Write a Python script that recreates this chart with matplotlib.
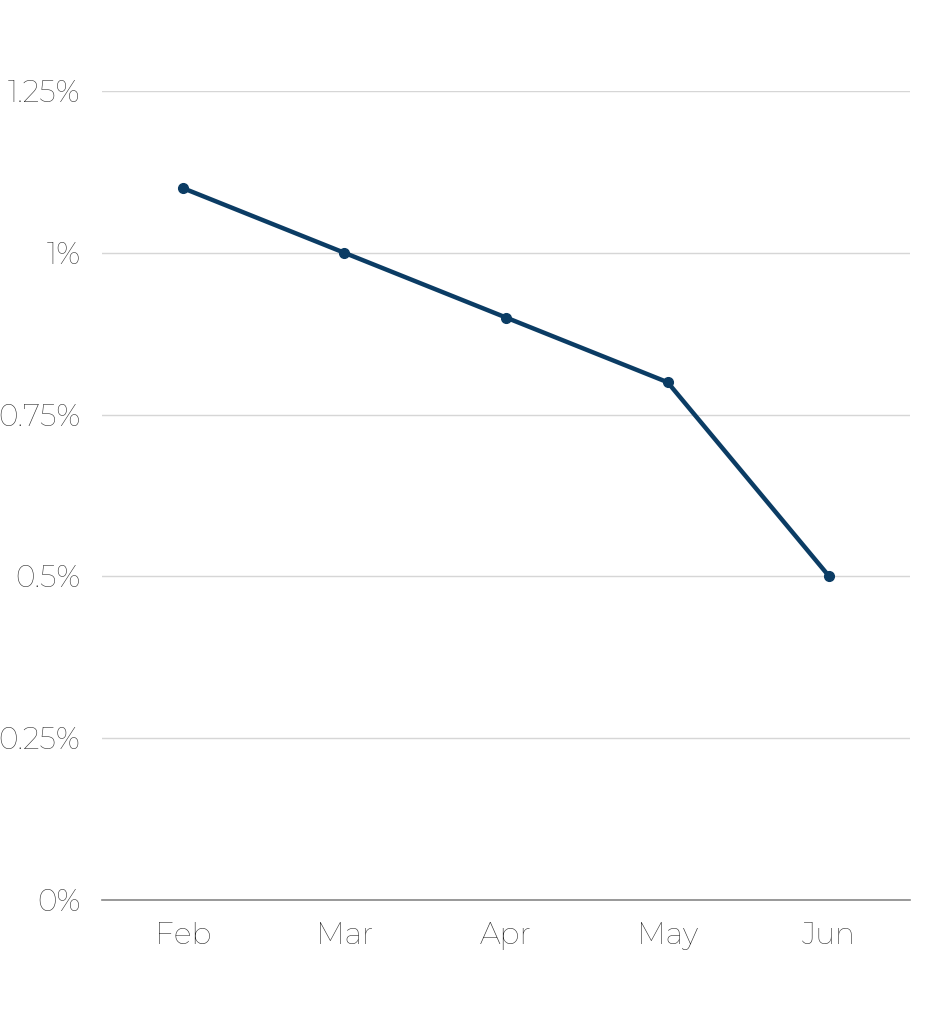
import matplotlib
matplotlib.use("Agg")
import matplotlib.pyplot as plt

months = ['Feb', 'Mar', 'Apr', 'May', 'Jun']
rate = [1.1, 1.0, 0.9, 0.8, 0.5]
yticks = [0, 0.25, 0.5, 0.75, 1.0, 1.25]
ytick_labels = ['0%', '0.25%', '0.5%', '0.75%', '1%', '1.25%']

plt.rcParams['font.family'] = ['Montserrat', 'Lato', 'DejaVu Sans']

fig = plt.figure(figsize=(9.48, 10.24), dpi=100)
ax = fig.add_axes([102 / 948, 124 / 1024, 808 / 948, 809 / 1024])

x = list(range(len(months)))
ax.plot(x, rate, color='#0b3c64', lw=3.2, marker='o', ms=7, solid_capstyle='round')

ax.set_xlim(-0.5, len(months) - 0.5)
ax.set_ylim(0, 1.25)
ax.set_xticks(x)
ax.set_xticklabels(months)
ax.set_yticks(yticks)
ax.set_yticklabels(ytick_labels)
# the installed Montserrat renders thin, so use a darker grey to compensate
ax.tick_params(axis='both', length=0, labelsize=21.5, labelcolor='#2a2a2a')
ax.tick_params(axis='x', pad=16)
ax.tick_params(axis='y', pad=15.5)

ax.grid(axis='y', color='#d6d6d6', lw=1)
ax.set_axisbelow(True)
for s in ['top', 'right', 'left']:
    ax.spines[s].set_visible(False)
ax.spines['bottom'].set_color('#888888')
ax.spines['bottom'].set_linewidth(1.2)

fig.savefig('out.png', dpi=100, facecolor='white')
